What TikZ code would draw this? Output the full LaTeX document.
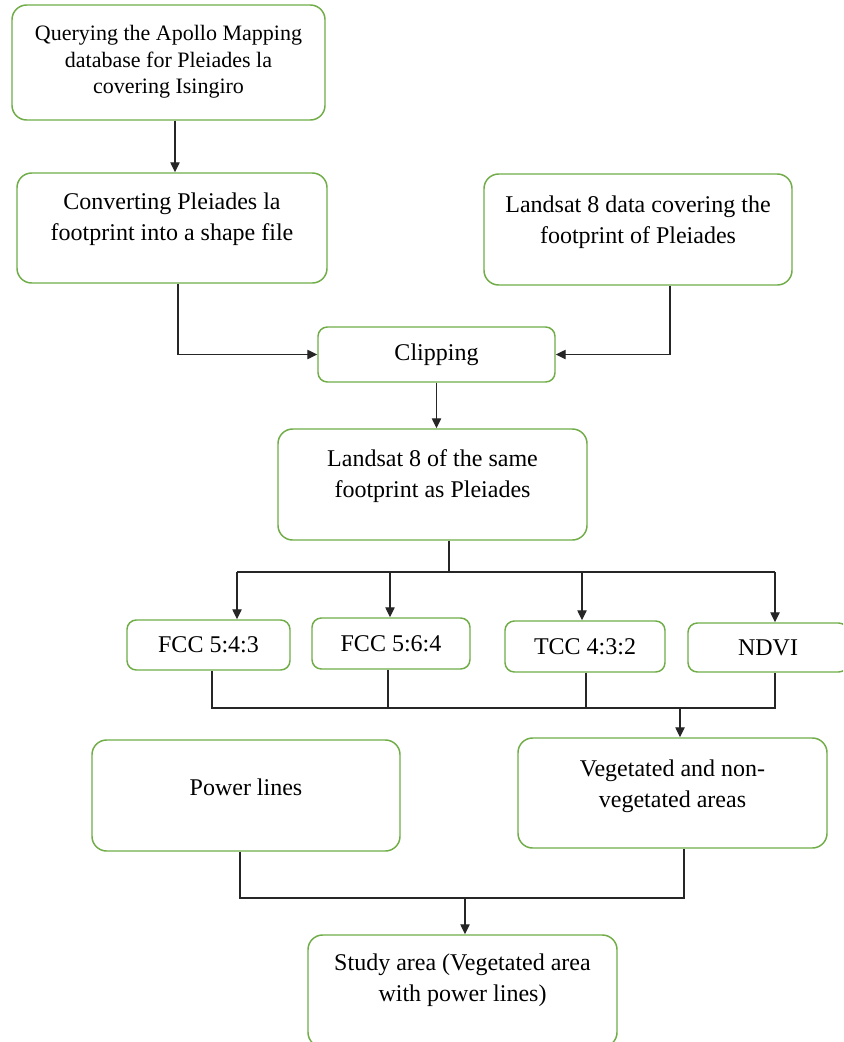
\documentclass[tikz,border=0pt]{standalone}
\usepackage{fontspec}
\setmainfont{Liberation Serif}
\usetikzlibrary{calc,arrows.meta}
\definecolor{boxgreen}{RGB}{112,173,71}
\begin{document}
\begin{tikzpicture}[x=0.75pt,y=-0.75pt,
  box/.style={draw=boxgreen,line width=1.1pt,rounded corners=11pt,fill=white,inner sep=0pt},
  smallbox/.style={box,rounded corners=7pt,font=\fontsize{18}{23.5}\selectfont},
  sz/.style 2 args={minimum width=#1*0.75pt,minimum height=#2*0.75pt},
  txt/.style={align=center,font=\fontsize{18}{23.5}\selectfont,inner sep=0pt},
  conn/.style={draw=black!85,line width=1pt},
  arr/.style={conn,-{Triangle[length=7.5pt,width=7pt]}}]
\clip (0,0) rectangle (843,1042);
\fill[white] (0,0) rectangle (843,1042);
% boxes
\node[box,sz={313}{115}] (b1) at (168.5,62.5) {};
\node[txt,font=\fontsize{16.5}{20}\selectfont] (t1) at (168.5,62) {Querying the Apollo Mapping\\database for Pleiades la\\covering Isingiro};
\node[box,sz={310}{110}] (b2) at (172,228) {};
\node[txt] (t2) at (172,219) {Converting Pleiades la\\footprint into a shape file};
\node[box,sz={308}{111}] (b3) at (638,229.5) {};
\node[txt] (t3) at (638,222) {Landsat 8 data covering the\\footprint of Pleiades};
\node[smallbox,sz={237}{55}] (clip) at (436.5,354.5) {Clipping};
\node[box,sz={309}{111}] (b5) at (432.5,484.5) {};
\node[txt] (t5) at (432.5,476) {Landsat 8 of the same\\footprint as Pleiades};
\node[smallbox,sz={163}{50}] (f1) at (208.5,645) {FCC 5:4:3};
\node[smallbox,sz={158}{51}] (f2) at (391,643.5) {FCC 5:6:4};
\node[smallbox,sz={160}{51}] (f3) at (585,646.5) {TCC 4:3:2};
\node[smallbox,sz={160}{49}] (f4) at (768,647.5) {NDVI};
\node[box,sz={308}{111}] (pow) at (246,795.5) {};
\node[txt] (tp) at (246,787) {Power lines};
\node[box,sz={309}{110}] (veg) at (672.5,793) {};
\node[txt] (tv) at (672.5,786) {Vegetated and non-\\vegetated areas};
\node[box,sz={309}{112}] (study) at (462.5,991) {};
\node[txt] (ts) at (462.5,980) {Study area (Vegetated area\\with power lines)};
% connectors
\draw[arr] ($(b1.south)+(6.5,0)$) -- ($(b2.north)+(3,0)$);
\draw[arr] ($(b2.south)+(6,0)$) |- (clip.west);
\draw[arr] ($(b3.south)+(32,0)$) |- (clip.east);
\draw[arr] (clip.south) -- (clip.south |- b5.north);
\coordinate (s1) at ($(b5.south)+(16.5,32)$);
\coordinate (a1) at (237,572);
\coordinate (a2) at (390,572);
\coordinate (a3) at (582,572);
\coordinate (a4) at (775,572);
\draw[conn] ($(b5.south)+(16.5,0)$) -- (s1);
\draw[conn] (a1) -- (a4);
\draw[arr] (a1) -- (a1 |- f1.north);
\draw[arr] (a2) -- (a2 |- f2.north);
\draw[arr] (a3) -- (a3 |- f3.north);
\draw[arr] (a4) -- (a4 |- f4.north);
\coordinate (m1) at (212,708);
\coordinate (m2) at (388,708);
\coordinate (m3) at (586,708);
\coordinate (m4) at (775,708);
\coordinate (m5) at (680,708);
\draw[conn] (m1 |- f1.south) -- (m1) -- (m4) -- (m4 |- f4.south);
\draw[conn] (m2 |- f2.south) -- (m2);
\draw[conn] (m3 |- f3.south) -- (m3);
\draw[arr] (m5) -- (m5 |- veg.north);
\coordinate (p1) at (240,898);
\coordinate (p2) at (684,898);
\coordinate (p3) at (465,898);
\draw[conn] (p1 |- pow.south) -- (p1) -- (p2) -- (p2 |- veg.south);
\draw[arr] (p3) -- (p3 |- study.north);
\end{tikzpicture}
\end{document}
